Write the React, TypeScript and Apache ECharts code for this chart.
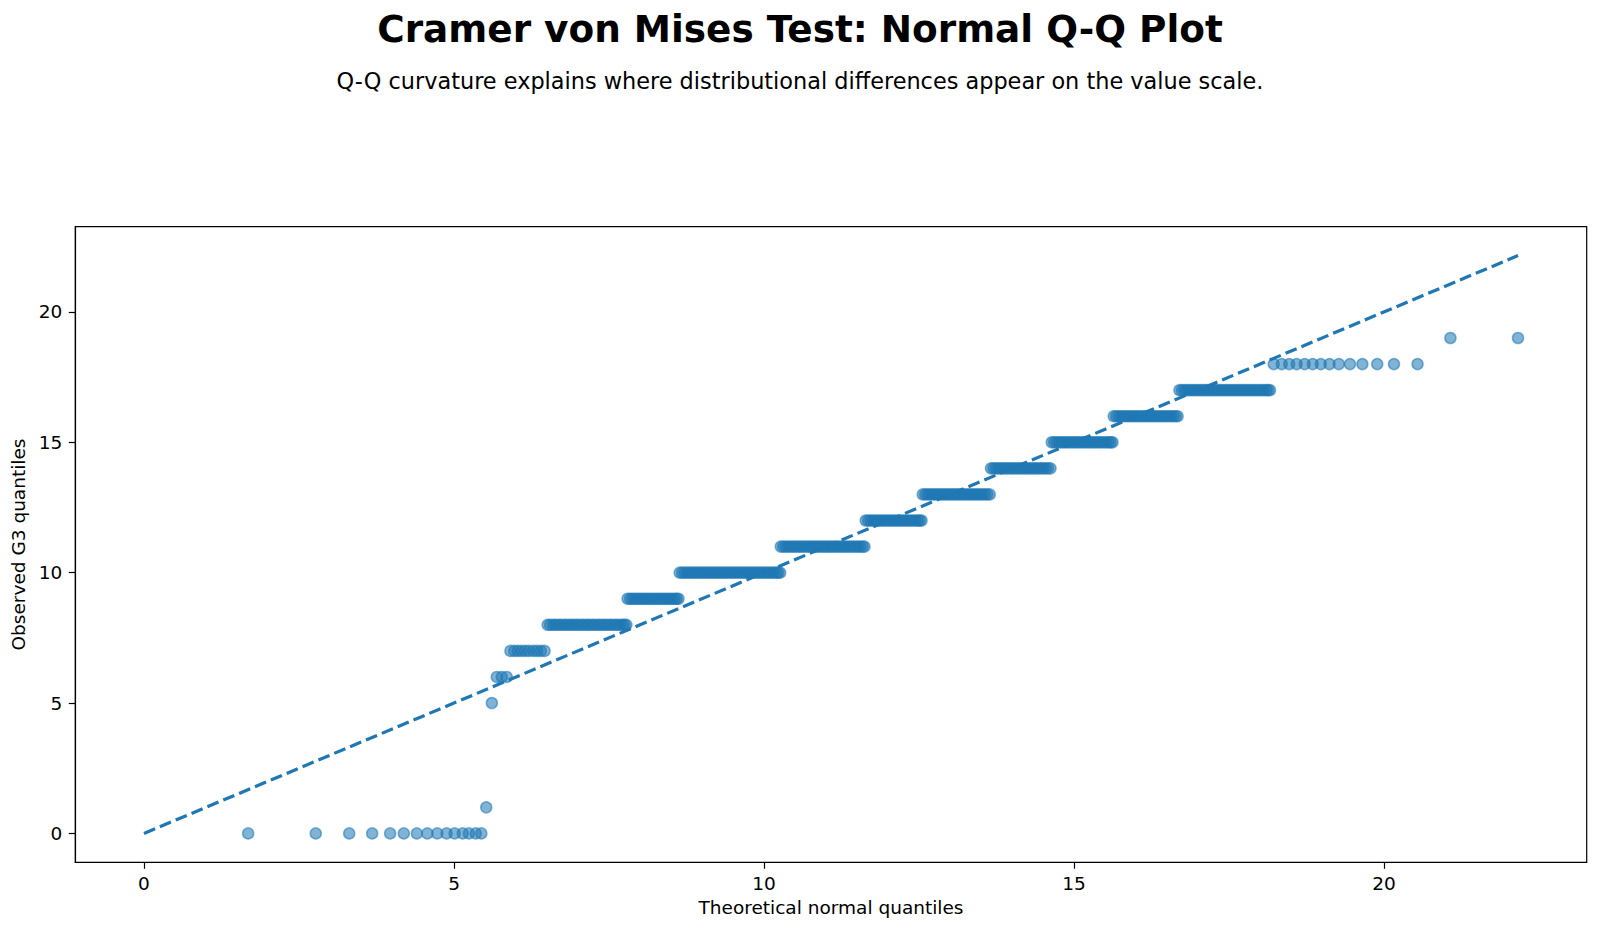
import React, { useEffect, useRef } from "react";
import * as echarts from "echarts";

const TITLE = "Cramer von Mises Test: Normal Q-Q Plot";
const SUBTITLE = "Q-Q curvature explains where distributional differences appear on the value scale.";
const X_NAME = "Theoretical normal quantiles";
const Y_NAME = "Observed G3 quantiles";

const xTicks = [0, 5, 10, 15, 20];
const yTicks = [0, 5, 10, 15, 20];

// theoretical quantile (x) of each observed G3 point, grouped by observed value
const xAt0 = [1.68, 2.77, 3.31, 3.68, 3.97, 4.19, 4.40, 4.57, 4.73, 4.88, 5.01, 5.14, 5.24, 5.35, 5.44];
const xAt1 = [5.52];
const xAt5 = [5.61];
const xAt6 = [5.69, 5.77, 5.85];
const xAt7 = [5.91, 5.97, 6.03, 6.09, 6.15, 6.21, 6.28, 6.34, 6.40, 6.46];
const xAt8 = [6.51, 6.55, 6.60, 6.64, 6.69, 6.73, 6.78, 6.82, 6.87, 6.91, 6.96, 7.00, 7.05, 7.09, 7.14, 7.18, 7.23, 7.27, 7.32, 7.36, 7.41, 7.45, 7.50, 7.54, 7.59, 7.63, 7.68, 7.72, 7.75, 7.78];
const xAt9 = [7.80, 7.84, 7.88, 7.92, 7.96, 8.00, 8.04, 8.08, 8.12, 8.16, 8.20, 8.24, 8.28, 8.32, 8.36, 8.40, 8.44, 8.48, 8.52, 8.56, 8.59, 8.62];
const xAt10 = [8.64, 8.68, 8.72, 8.76, 8.80, 8.84, 8.88, 8.92, 8.96, 9.00, 9.04, 9.08, 9.12, 9.16, 9.20, 9.24, 9.28, 9.32, 9.36, 9.40, 9.44, 9.48, 9.52, 9.56, 9.60, 9.64, 9.68, 9.72, 9.76, 9.80, 9.84, 9.88, 9.92, 9.96, 10.00, 10.04, 10.08, 10.12, 10.16, 10.20, 10.23, 10.26];
const xAt11 = [10.27, 10.31, 10.35, 10.39, 10.43, 10.47, 10.51, 10.55, 10.59, 10.63, 10.67, 10.71, 10.75, 10.79, 10.83, 10.87, 10.91, 10.95, 10.99, 11.03, 11.07, 11.11, 11.15, 11.19, 11.23, 11.27, 11.31, 11.35, 11.39, 11.43, 11.47, 11.51, 11.55, 11.59, 11.62];
const xAt12 = [11.64, 11.68, 11.72, 11.76, 11.80, 11.84, 11.88, 11.92, 11.96, 12.00, 12.04, 12.08, 12.12, 12.16, 12.20, 12.24, 12.28, 12.32, 12.36, 12.40, 12.44, 12.48, 12.51, 12.54];
const xAt13 = [12.56, 12.60, 12.64, 12.68, 12.72, 12.76, 12.80, 12.84, 12.88, 12.92, 12.96, 13.00, 13.04, 13.08, 13.12, 13.16, 13.20, 13.24, 13.28, 13.32, 13.36, 13.40, 13.44, 13.48, 13.52, 13.56, 13.60, 13.64];
const xAt14 = [13.66, 13.70, 13.74, 13.78, 13.82, 13.86, 13.90, 13.94, 13.98, 14.02, 14.06, 14.10, 14.14, 14.18, 14.22, 14.26, 14.30, 14.34, 14.38, 14.42, 14.46, 14.50, 14.54, 14.58, 14.62];
const xAt15 = [14.64, 14.68, 14.72, 14.76, 14.80, 14.84, 14.88, 14.92, 14.96, 15.00, 15.04, 15.08, 15.12, 15.16, 15.20, 15.24, 15.28, 15.32, 15.36, 15.40, 15.44, 15.48, 15.52, 15.56, 15.59, 15.62];
const xAt16 = [15.64, 15.68, 15.72, 15.76, 15.80, 15.84, 15.88, 15.92, 15.96, 16.00, 16.04, 16.08, 16.12, 16.16, 16.20, 16.24, 16.28, 16.32, 16.36, 16.40, 16.44, 16.48, 16.52, 16.56, 16.60, 16.64, 16.67];
const xAt17 = [16.70, 16.74, 16.78, 16.82, 16.86, 16.90, 16.94, 16.98, 17.02, 17.06, 17.10, 17.14, 17.18, 17.22, 17.26, 17.30, 17.34, 17.38, 17.42, 17.46, 17.50, 17.54, 17.58, 17.62, 17.66, 17.70, 17.74, 17.78, 17.82, 17.86, 17.90, 17.94, 17.98, 18.02, 18.06, 18.10, 18.13, 18.16];
const xAt18 = [18.22, 18.35, 18.47, 18.59, 18.72, 18.85, 18.98, 19.12, 19.27, 19.45, 19.65, 19.89, 20.16, 20.54];
const xAt19 = [21.07, 22.16];

const observedLevels = [0, 1, 5, 6, 7, 8, 9, 10, 11, 12, 13, 14, 15, 16, 17, 18, 19];
const levelXs = [xAt0, xAt1, xAt5, xAt6, xAt7, xAt8, xAt9, xAt10, xAt11, xAt12, xAt13, xAt14, xAt15, xAt16, xAt17, xAt18, xAt19];

// reference line y = x
const refLine = [0, 22.16];

const X_MIN = -1.108;
const X_MAX = 23.268;

const FONT = "DejaVu Sans";
const BLUE = "#1f77b4";

export default function App() {
  const ref = useRef<HTMLDivElement>(null);

  useEffect(() => {
    if (!ref.current) return;
    const chart = echarts.init(ref.current, undefined, { renderer: "svg" });

    const points: number[][] = [];
    observedLevels.forEach((lvl, i) => {
      levelXs[i].forEach((x) => points.push([x, lvl]));
    });

    const axisCommon = {
      type: "value" as const,
      min: X_MIN,
      max: X_MAX,
      splitLine: { show: false },
      axisLine: { show: true, onZero: false, lineStyle: { color: "#000", width: 1.2 } },
      nameTextStyle: { fontFamily: FONT, fontSize: 18.5, color: "#000" },
      nameLocation: "middle" as const,
    };

    chart.setOption({
      animation: false,
      backgroundColor: "#fff",
      graphic: [
        {
          type: "text",
          x: 800,
          y: 29,
          style: {
            text: TITLE,
            fontFamily: FONT,
            fontWeight: "bold",
            fontSize: 37.4,
            fill: "#000",
            textAlign: "center",
            textVerticalAlign: "middle",
          },
        },
        {
          type: "text",
          x: 800,
          y: 81,
          style: {
            text: SUBTITLE,
            fontFamily: FONT,
            fontSize: 22.4,
            fill: "#000",
            textAlign: "center",
            textVerticalAlign: "middle",
          },
        },
      ],
      grid: {
        left: 75.3,
        right: 13.3,
        top: 226.7,
        bottom: 69.7,
        show: true,
        borderColor: "#000",
        borderWidth: 1.2,
        backgroundColor: "transparent",
      },
      xAxis: {
        ...axisCommon,
        name: X_NAME,
        nameGap: 36,
        axisTick: {
          show: true,
          customValues: xTicks,
          length: 6.5,
          lineStyle: { color: "#000", width: 1.2 },
        },
        axisLabel: {
          customValues: xTicks,
          fontFamily: FONT,
          fontSize: 18.5,
          color: "#000",
          margin: 12,
        },
      },
      yAxis: {
        ...axisCommon,
        name: Y_NAME,
        nameGap: 46,
        axisTick: {
          show: true,
          customValues: yTicks,
          length: 6.5,
          lineStyle: { color: "#000", width: 1.2 },
        },
        axisLabel: {
          customValues: yTicks,
          fontFamily: FONT,
          fontSize: 18.5,
          color: "#000",
          margin: 13,
        },
      },
      series: [
        {
          type: "scatter",
          data: points,
          symbol: "circle",
          symbolSize: 11,
          itemStyle: {
            color: "rgba(31,119,180,0.7)",
            borderColor: "rgba(31,119,180,0.7)",
            borderWidth: 1.5,
          },
          z: 2,
        },
        {
          type: "line",
          data: refLine.map((v) => [v, v]),
          showSymbol: false,
          symbol: "none",
          lineStyle: { color: BLUE, width: 3.2, type: [12, 5.2] },
          z: 3,
        },
      ],
    });

    return () => chart.dispose();
  }, []);

  return (
    <div
      ref={ref}
      style={{ position: "absolute", left: 0, top: 0, width: "1600px", height: "932px" }}
    />
  );
}
